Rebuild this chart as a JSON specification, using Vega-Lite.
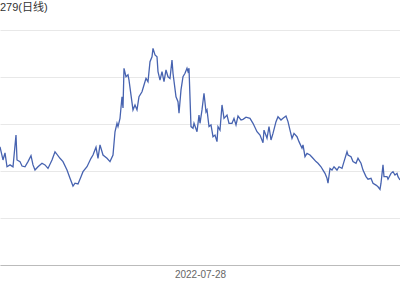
{
  "$schema": "https://vega.github.io/schema/vega-lite/v6.json",
  "width": 400,
  "height": 235,
  "autosize": "none",
  "padding": {"left": 0, "top": 30, "right": 0, "bottom": 35},
  "background": "white",
  "title": {
    "text": "279(日线)",
    "anchor": "start",
    "frame": "group",
    "offset": 17,
    "fontSize": 11,
    "fontWeight": "normal",
    "color": "#333333",
    "font": "Liberation Sans, Noto Sans CJK SC"
  },
  "config": {
    "view": {"stroke": null},
    "font": "Liberation Sans, Noto Sans CJK SC"
  },
  "data": {
    "values": [
      {"date": "2021-06-23", "close": 9.03},
      {"date": "2021-06-29", "close": 8.47},
      {"date": "2021-07-03", "close": 8.77},
      {"date": "2021-07-07", "close": 8.18},
      {"date": "2021-07-13", "close": 8.26},
      {"date": "2021-07-19", "close": 8.18},
      {"date": "2021-07-25", "close": 9.53},
      {"date": "2021-07-27", "close": 8.47},
      {"date": "2021-08-02", "close": 8.40},
      {"date": "2021-08-06", "close": 8.21},
      {"date": "2021-08-12", "close": 8.18},
      {"date": "2021-08-18", "close": 8.40},
      {"date": "2021-08-24", "close": 8.65},
      {"date": "2021-08-28", "close": 8.26},
      {"date": "2021-09-01", "close": 8.04},
      {"date": "2021-09-07", "close": 8.18},
      {"date": "2021-09-15", "close": 8.33},
      {"date": "2021-09-21", "close": 8.26},
      {"date": "2021-09-27", "close": 8.11},
      {"date": "2021-10-05", "close": 8.47},
      {"date": "2021-10-11", "close": 8.82},
      {"date": "2021-10-21", "close": 8.54},
      {"date": "2021-10-27", "close": 8.40},
      {"date": "2021-11-04", "close": 8.04},
      {"date": "2021-11-10", "close": 7.69},
      {"date": "2021-11-16", "close": 7.36},
      {"date": "2021-11-20", "close": 7.48},
      {"date": "2021-11-26", "close": 7.45},
      {"date": "2021-12-02", "close": 7.76},
      {"date": "2021-12-06", "close": 7.97},
      {"date": "2021-12-14", "close": 8.18},
      {"date": "2021-12-22", "close": 8.54},
      {"date": "2021-12-26", "close": 8.68},
      {"date": "2022-01-01", "close": 9.01},
      {"date": "2022-01-05", "close": 8.54},
      {"date": "2022-01-09", "close": 9.11},
      {"date": "2022-01-15", "close": 8.68},
      {"date": "2022-01-23", "close": 8.54},
      {"date": "2022-01-29", "close": 8.40},
      {"date": "2022-02-04", "close": 8.68},
      {"date": "2022-02-08", "close": 9.67},
      {"date": "2022-02-12", "close": 10.03},
      {"date": "2022-02-14", "close": 9.89},
      {"date": "2022-02-18", "close": 10.24},
      {"date": "2022-02-22", "close": 11.16},
      {"date": "2022-02-24", "close": 10.68},
      {"date": "2022-02-26", "close": 12.37},
      {"date": "2022-03-02", "close": 12.01},
      {"date": "2022-03-06", "close": 12.09},
      {"date": "2022-03-08", "close": 11.87},
      {"date": "2022-03-12", "close": 11.23},
      {"date": "2022-03-16", "close": 10.60},
      {"date": "2022-03-20", "close": 10.81},
      {"date": "2022-03-24", "close": 10.60},
      {"date": "2022-03-28", "close": 11.16},
      {"date": "2022-04-03", "close": 11.37},
      {"date": "2022-04-07", "close": 11.66},
      {"date": "2022-04-11", "close": 11.94},
      {"date": "2022-04-15", "close": 11.80},
      {"date": "2022-04-19", "close": 12.65},
      {"date": "2022-04-23", "close": 12.86},
      {"date": "2022-04-25", "close": 13.22},
      {"date": "2022-04-29", "close": 12.94},
      {"date": "2022-05-03", "close": 12.86},
      {"date": "2022-05-05", "close": 12.23},
      {"date": "2022-05-09", "close": 11.87},
      {"date": "2022-05-13", "close": 12.23},
      {"date": "2022-05-17", "close": 11.80},
      {"date": "2022-05-21", "close": 12.30},
      {"date": "2022-05-25", "close": 12.01},
      {"date": "2022-05-29", "close": 11.94},
      {"date": "2022-06-02", "close": 12.72},
      {"date": "2022-06-04", "close": 12.16},
      {"date": "2022-06-10", "close": 11.16},
      {"date": "2022-06-14", "close": 10.95},
      {"date": "2022-06-16", "close": 10.46},
      {"date": "2022-06-20", "close": 11.45},
      {"date": "2022-06-24", "close": 12.01},
      {"date": "2022-06-28", "close": 12.16},
      {"date": "2022-07-02", "close": 12.37},
      {"date": "2022-07-04", "close": 12.23},
      {"date": "2022-07-06", "close": 12.37},
      {"date": "2022-07-10", "close": 9.89},
      {"date": "2022-07-14", "close": 9.82},
      {"date": "2022-07-16", "close": 10.03},
      {"date": "2022-07-22", "close": 9.67},
      {"date": "2022-07-26", "close": 10.38},
      {"date": "2022-07-28", "close": 10.03},
      {"date": "2022-08-01", "close": 10.60},
      {"date": "2022-08-05", "close": 11.31},
      {"date": "2022-08-09", "close": 10.52},
      {"date": "2022-08-11", "close": 10.60},
      {"date": "2022-08-15", "close": 9.89},
      {"date": "2022-08-19", "close": 9.96},
      {"date": "2022-08-23", "close": 9.46},
      {"date": "2022-08-27", "close": 9.53},
      {"date": "2022-08-31", "close": 9.25},
      {"date": "2022-09-02", "close": 9.89},
      {"date": "2022-09-06", "close": 9.74},
      {"date": "2022-09-10", "close": 10.81},
      {"date": "2022-09-14", "close": 10.24},
      {"date": "2022-09-20", "close": 10.38},
      {"date": "2022-09-24", "close": 10.03},
      {"date": "2022-09-30", "close": 10.03},
      {"date": "2022-10-04", "close": 10.24},
      {"date": "2022-10-08", "close": 9.96},
      {"date": "2022-10-12", "close": 10.34},
      {"date": "2022-10-18", "close": 10.17},
      {"date": "2022-10-22", "close": 10.20},
      {"date": "2022-10-28", "close": 10.29},
      {"date": "2022-11-05", "close": 10.24},
      {"date": "2022-11-11", "close": 10.03},
      {"date": "2022-11-19", "close": 9.67},
      {"date": "2022-11-25", "close": 9.53},
      {"date": "2022-12-01", "close": 9.20},
      {"date": "2022-12-03", "close": 9.74},
      {"date": "2022-12-09", "close": 9.39},
      {"date": "2022-12-13", "close": 9.89},
      {"date": "2022-12-17", "close": 9.32},
      {"date": "2022-12-21", "close": 9.60},
      {"date": "2022-12-27", "close": 10.10},
      {"date": "2022-12-31", "close": 10.31},
      {"date": "2023-01-06", "close": 10.17},
      {"date": "2023-01-10", "close": 10.24},
      {"date": "2023-01-16", "close": 10.34},
      {"date": "2023-01-20", "close": 10.10},
      {"date": "2023-01-24", "close": 9.74},
      {"date": "2023-01-28", "close": 9.39},
      {"date": "2023-02-01", "close": 9.60},
      {"date": "2023-02-07", "close": 9.46},
      {"date": "2023-02-11", "close": 9.25},
      {"date": "2023-02-17", "close": 8.97},
      {"date": "2023-02-19", "close": 9.11},
      {"date": "2023-02-23", "close": 8.61},
      {"date": "2023-02-27", "close": 8.75},
      {"date": "2023-03-05", "close": 8.68},
      {"date": "2023-03-11", "close": 8.54},
      {"date": "2023-03-17", "close": 8.40},
      {"date": "2023-03-21", "close": 8.33},
      {"date": "2023-03-27", "close": 8.18},
      {"date": "2023-03-31", "close": 8.04},
      {"date": "2023-04-04", "close": 7.90},
      {"date": "2023-04-08", "close": 7.69},
      {"date": "2023-04-10", "close": 7.48},
      {"date": "2023-04-14", "close": 8.11},
      {"date": "2023-04-18", "close": 8.04},
      {"date": "2023-04-22", "close": 8.18},
      {"date": "2023-04-28", "close": 8.04},
      {"date": "2023-05-02", "close": 8.18},
      {"date": "2023-05-08", "close": 8.11},
      {"date": "2023-05-12", "close": 8.40},
      {"date": "2023-05-18", "close": 8.82},
      {"date": "2023-05-20", "close": 8.68},
      {"date": "2023-05-26", "close": 8.61},
      {"date": "2023-05-30", "close": 8.40},
      {"date": "2023-06-05", "close": 8.33},
      {"date": "2023-06-09", "close": 8.54},
      {"date": "2023-06-15", "close": 8.33},
      {"date": "2023-06-19", "close": 8.04},
      {"date": "2023-06-25", "close": 7.76},
      {"date": "2023-06-29", "close": 7.65},
      {"date": "2023-07-05", "close": 7.69},
      {"date": "2023-07-09", "close": 7.48},
      {"date": "2023-07-15", "close": 7.40},
      {"date": "2023-07-19", "close": 7.33},
      {"date": "2023-07-23", "close": 7.22},
      {"date": "2023-07-25", "close": 7.48},
      {"date": "2023-07-29", "close": 8.26},
      {"date": "2023-07-31", "close": 7.76},
      {"date": "2023-08-06", "close": 7.76},
      {"date": "2023-08-08", "close": 7.65},
      {"date": "2023-08-14", "close": 7.90},
      {"date": "2023-08-18", "close": 7.97},
      {"date": "2023-08-22", "close": 7.83},
      {"date": "2023-08-26", "close": 7.90},
      {"date": "2023-08-28", "close": 7.76},
      {"date": "2023-09-01", "close": 7.62}
    ]
  },
  "mark": {"type": "line", "color": "#4763b0", "strokeWidth": 1.3, "clip": true},
  "encoding": {
    "x": {
      "field": "date",
      "type": "temporal",
      "scale": {
        "type": "utc",
        "domain": [
          {"year": 2021, "month": 6, "date": 23, "utc": true},
          {"year": 2023, "month": 9, "date": 1, "utc": true}
        ]
      },
      "axis": {
        "title": null,
        "values": [{"year": 2022, "month": 7, "date": 28, "utc": true}],
        "format": "%Y-%m-%d",
        "grid": false,
        "ticks": false,
        "domainColor": "#bbbbbb",
        "labelColor": "#666666",
        "labelFontSize": 10,
        "labelPadding": 4,
        "labelFont": "Liberation Sans"
      }
    },
    "y": {
      "field": "close",
      "type": "quantitative",
      "scale": {"domain": [4, 14], "nice": false, "zero": false},
      "axis": {
        "title": null,
        "values": [4, 6, 8, 10, 12, 14],
        "labels": false,
        "ticks": false,
        "domain": false,
        "grid": true,
        "gridColor": "#e8e8e8"
      }
    }
  }
}
